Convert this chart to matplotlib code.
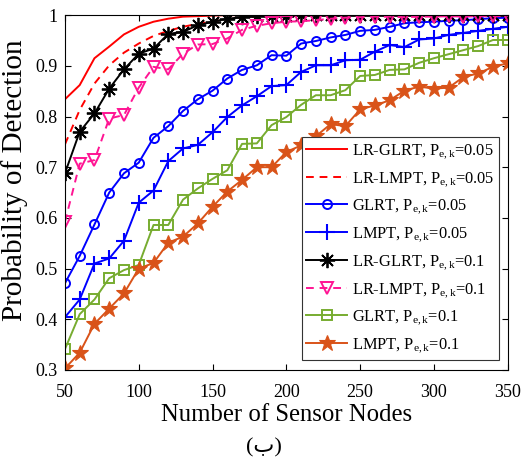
import matplotlib
matplotlib.use("Agg")
import matplotlib.pyplot as plt
import numpy as np

plt.rcParams['font.family'] = ['Liberation Serif', 'DejaVu Sans']
plt.rcParams['mathtext.fontset'] = 'custom'
plt.rcParams['mathtext.rm'] = 'Liberation Serif'
plt.rcParams['mathtext.it'] = 'Liberation Serif:italic'

# Datos
nodes = np.arange(50, 351, 10)

lrglrt_005 = [0.834, 0.862, 0.915, 0.938, 0.962, 0.977, 0.987, 0.993, 0.997, 0.998,
              0.999, 1.0, 1.0, 1.0, 1.0, 1.0, 1.0, 1.0, 1.0, 1.0, 1.0, 1.0, 1.0, 1.0,
              1.0, 1.0, 1.0, 1.0, 1.0, 1.0, 1.0]
lrlmpt_005 = [0.745, 0.813, 0.865, 0.901, 0.926, 0.944, 0.959, 0.969, 0.977, 0.983,
              0.988, 0.992, 0.995, 0.997, 0.998, 0.999, 1.0, 1.0, 1.0, 1.0, 1.0, 1.0,
              1.0, 1.0, 1.0, 1.0, 1.0, 1.0, 1.0, 1.0, 1.0]
glrt_005 = [0.471, 0.525, 0.587, 0.650, 0.688, 0.709, 0.758, 0.781, 0.811, 0.834,
            0.851, 0.875, 0.892, 0.901, 0.921, 0.920, 0.944, 0.949, 0.956, 0.961,
            0.969, 0.971, 0.977, 0.984, 0.986, 0.987, 0.989, 0.990, 0.992, 0.994, 0.995]
lmpt_005 = [0.404, 0.439, 0.510, 0.520, 0.555, 0.630, 0.654, 0.712, 0.737, 0.744,
            0.769, 0.799, 0.822, 0.840, 0.860, 0.862, 0.888, 0.901, 0.901, 0.911,
            0.912, 0.928, 0.941, 0.937, 0.952, 0.954, 0.961, 0.965, 0.969, 0.973, 0.977]
lrglrt_01 = [0.688, 0.770, 0.806, 0.855, 0.893, 0.924, 0.934, 0.963, 0.967, 0.980,
             0.987, 0.993, 0.996, 0.998, 0.999, 0.999, 1.0, 1.0, 1.0, 1.0, 1.0, 1.0,
             1.0, 1.0, 1.0, 1.0, 1.0, 1.0, 1.0, 1.0, 1.0]
lrlmpt_01 = [0.592, 0.707, 0.714, 0.796, 0.803, 0.857, 0.898, 0.893, 0.924, 0.942,
             0.943, 0.954, 0.971, 0.979, 0.984, 0.987, 0.988, 0.990, 0.993, 0.995,
             0.996, 0.997, 0.997, 0.996, 0.997, 0.997, 0.998, 0.997, 0.998, 0.998, 0.998]
glrt_01 = [0.341, 0.410, 0.439, 0.481, 0.497, 0.507, 0.586, 0.586, 0.636, 0.658,
           0.677, 0.694, 0.746, 0.747, 0.783, 0.799, 0.823, 0.842, 0.842, 0.852,
           0.880, 0.882, 0.892, 0.893, 0.906, 0.915, 0.923, 0.931, 0.939, 0.951, 0.951]
lmpt_01 = [0.303, 0.334, 0.391, 0.421, 0.451, 0.500, 0.511, 0.551, 0.563, 0.589,
           0.622, 0.652, 0.675, 0.700, 0.700, 0.730, 0.743, 0.761, 0.785, 0.781,
           0.814, 0.822, 0.832, 0.851, 0.859, 0.855, 0.857, 0.878, 0.885, 0.898, 0.905]

labels = [r'LR-GLRT, P$_{\mathrm{e,k}}$=0.05',
          r'LR-LMPT, P$_{\mathrm{e,k}}$=0.05',
          r'GLRT, P$_{\mathrm{e,k}}$=0.05',
          r'LMPT, P$_{\mathrm{e,k}}$=0.05',
          r'LR-GLRT, P$_{\mathrm{e,k}}$=0.1',
          r'LR-LMPT, P$_{\mathrm{e,k}}$=0.1',
          r'GLRT, P$_{\mathrm{e,k}}$=0.1',
          r'LMPT, P$_{\mathrm{e,k}}$=0.1']

fig = plt.figure(figsize=(5.28, 4.59), dpi=100)
ax = fig.add_axes([0.123, 0.194, 0.8386, 0.773])

lw = 1.4
ax.plot(nodes, lrglrt_005, '-', color='red', lw=lw, label=labels[0])
ax.plot(nodes, lrlmpt_005, '--', color='red', lw=lw, dashes=(4, 3), label=labels[1])
ax.plot(nodes, glrt_005, '-', color='blue', lw=lw, marker='o', ms=6.5,
        mfc='none', mew=1.4, label=labels[2])
ax.plot(nodes, lmpt_005, '-', color='blue', lw=lw, marker='+', ms=11,
        mew=1.5, label=labels[3])
ax.plot(nodes, lrglrt_01, '-', color='black', lw=lw, marker=(8, 2, 0), ms=11,
        mew=1.3, label=labels[4])
ax.plot(nodes, lrlmpt_01, '--', color='#FF1493', lw=lw, dashes=(4, 3), marker='v',
        ms=9, mfc='none', mew=1.4, label=labels[5])
ax.plot(nodes, glrt_01, '-', color='#77AC30', lw=lw, marker='s', ms=7,
        mfc='none', mew=1.4, label=labels[6])
ax.plot(nodes, lmpt_01, '-', color='#D95319', lw=lw, marker='*', ms=12,
        mew=0.8, label=labels[7])

ax.set_xlim(50, 350)
ax.set_ylim(0.3, 1.0)
ax.set_xticks(np.arange(50, 351, 50))
ax.set_yticks([0.3, 0.4, 0.5, 0.6, 0.7, 0.8, 0.9, 1.0])
ax.set_yticklabels(['0.3', '0.4', '0.5', '0.6', '0.7', '0.8', '0.9', '1'])
ax.tick_params(direction='in', top=True, right=True, labelsize=13, length=4,
               width=0.8)
ax.tick_params(axis='x', pad=10)
ax.tick_params(axis='y', pad=5)
for s in ax.spines.values():
    s.set_linewidth(0.8)

ax.set_xlabel('Number of Sensor Nodes', fontsize=17.8, labelpad=2)
ax.set_ylabel('Probability of Detection', fontsize=21)
ax.yaxis.set_label_coords(-0.083, 0.535)

leg = ax.legend(loc='lower right', bbox_to_anchor=(0.98, 0.028), fontsize=11.8,
                handlelength=2.5, handletextpad=0.25, labelspacing=0.55,
                borderpad=0.3, borderaxespad=0, fancybox=False, framealpha=1)
leg.get_frame().set_edgecolor('#333333')
leg.get_frame().set_linewidth(0.8)

fig.text(0.5, 0.024, '(ب)', ha='center', va='center', fontsize=16,
         family=['Liberation Serif', 'DejaVu Sans'])

fig.savefig('out.png', dpi=100)
